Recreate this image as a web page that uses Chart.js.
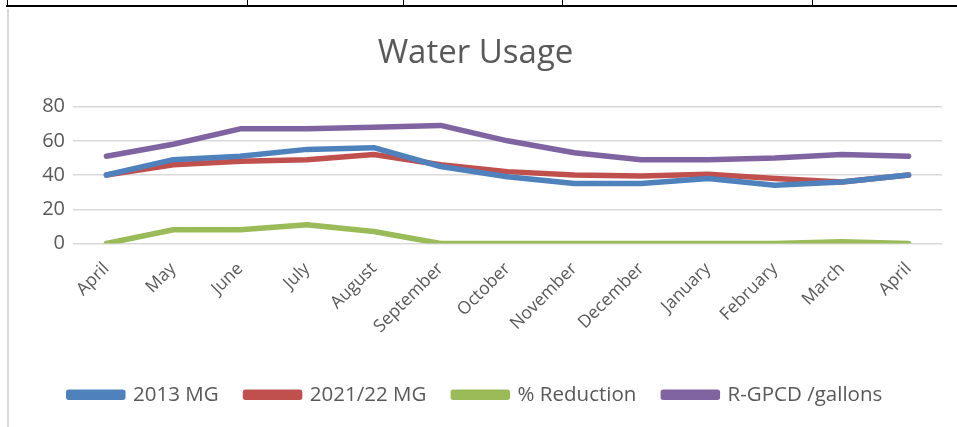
<!DOCTYPE html>
<html>
<head>
<meta charset="utf-8">
<script src="https://cdn.jsdelivr.net/npm/chart.js@4.4.1/dist/chart.umd.min.js"></script>
<style>
  html, body { margin: 0; padding: 0; background: #fff; }
  body { width: 957px; height: 427px; position: relative; overflow: hidden; }
  .tline { position: absolute; background: #000; }
  .side { position: absolute; left: 7px; top: 9px; width: 2px; height: 418px; background: #d9d9d9; }
  #wrap { position: absolute; left: 9px; top: 9px; width: 948px; height: 418px; }
</style>
</head>
<body>
<div class="tline" style="left:6px;top:5px;width:951px;height:2px"></div>
<div class="tline" style="left:7px;top:0;width:1px;height:6px"></div>
<div class="tline" style="left:247px;top:0;width:1px;height:6px"></div>
<div class="tline" style="left:403px;top:0;width:1px;height:6px"></div>
<div class="tline" style="left:562px;top:0;width:1px;height:6px"></div>
<div class="tline" style="left:812px;top:0;width:1px;height:6px"></div>
<div class="side"></div>
<div id="wrap"><canvas id="usageChart"></canvas></div>
<script>
const months = ['April', 'May', 'June', 'July', 'August', 'September', 'October',
    'November', 'December', 'January', 'February', 'March', 'April'];
const mg2013 = [40, 49, 51, 55, 56, 45, 39, 35, 35, 38, 34, 36, 40];
const mg2122 = [40, 46, 48, 49, 52, 46, 42, 40, 39.5, 40.5, 38, 36, 40];
const reduction = [0, 8, 8, 11, 7, 0, 0, 0, 0, 0, 0, 1, 0];
const gpcd = [51, 58, 67, 67, 68, 69, 60, 53, 49, 49, 50, 52, 51];
const yTicks = [0, 20, 40, 60, 80];

const textColor = '#595959';
const fontName = '"Open Sans", sans-serif';

function line(label, data, color) {
    return {
        label: label,
        data: data,
        borderColor: color,
        backgroundColor: color,
        borderWidth: 5.5,
        pointRadius: 0,
        pointHoverRadius: 0,
        tension: 0,
        borderCapStyle: 'round',
        borderJoinStyle: 'round'
    };
}

document.addEventListener('DOMContentLoaded', function () {
    const ctx = document.getElementById('usageChart').getContext('2d');
    new Chart(ctx, {
        type: 'line',
        data: {
            labels: months,
            datasets: [
                line('2013 MG', mg2013, '#4F81BD'),
                line('2021/22 MG', mg2122, '#C0504D'),
                line('% Reduction', reduction, '#9BBB59'),
                line('R-GPCD /gallons', gpcd, '#8064A2')
            ]
        },
        options: {
            responsive: true,
            maintainAspectRatio: false,
            animation: false,
            layout: { padding: { left: 0, right: 15, top: 0, bottom: 12 } },
            plugins: {
                title: {
                    display: true,
                    text: 'Water Usage',
                    color: textColor,
                    font: { family: fontName, size: 33, weight: 'normal' },
                    padding: { top: 25, bottom: 33 }
                },
                legend: {
                    position: 'bottom',
                    labels: {
                        color: textColor,
                        font: { family: fontName, size: 20.5 },
                        boxWidth: 54,
                        boxHeight: 5,
                        padding: 27
                    }
                },
                tooltip: { enabled: false }
            },
            scales: {
                x: {
                    offset: true,
                    grid: { display: false },
                    border: { display: false },
                    ticks: {
                        color: textColor,
                        font: { family: fontName, size: 17.5 },
                        maxRotation: 45,
                        minRotation: 45,
                        autoSkip: false,
                        padding: 7
                    },
                    afterFit: function (scale) { scale.height = 114; }
                },
                y: {
                    min: 0,
                    max: 80,
                    afterBuildTicks: function (scale) {
                        scale.ticks = yTicks.map(v => ({ value: v }));
                    },
                    grid: { color: '#d9d9d9', lineWidth: 1.5, drawTicks: false },
                    border: { display: false },
                    ticks: {
                        color: textColor,
                        font: { family: fontName, size: 20 },
                        padding: 8
                    },
                    afterFit: function (scale) { scale.width = 64; }
                }
            }
        }
    });
});
</script>
</body>
</html>
